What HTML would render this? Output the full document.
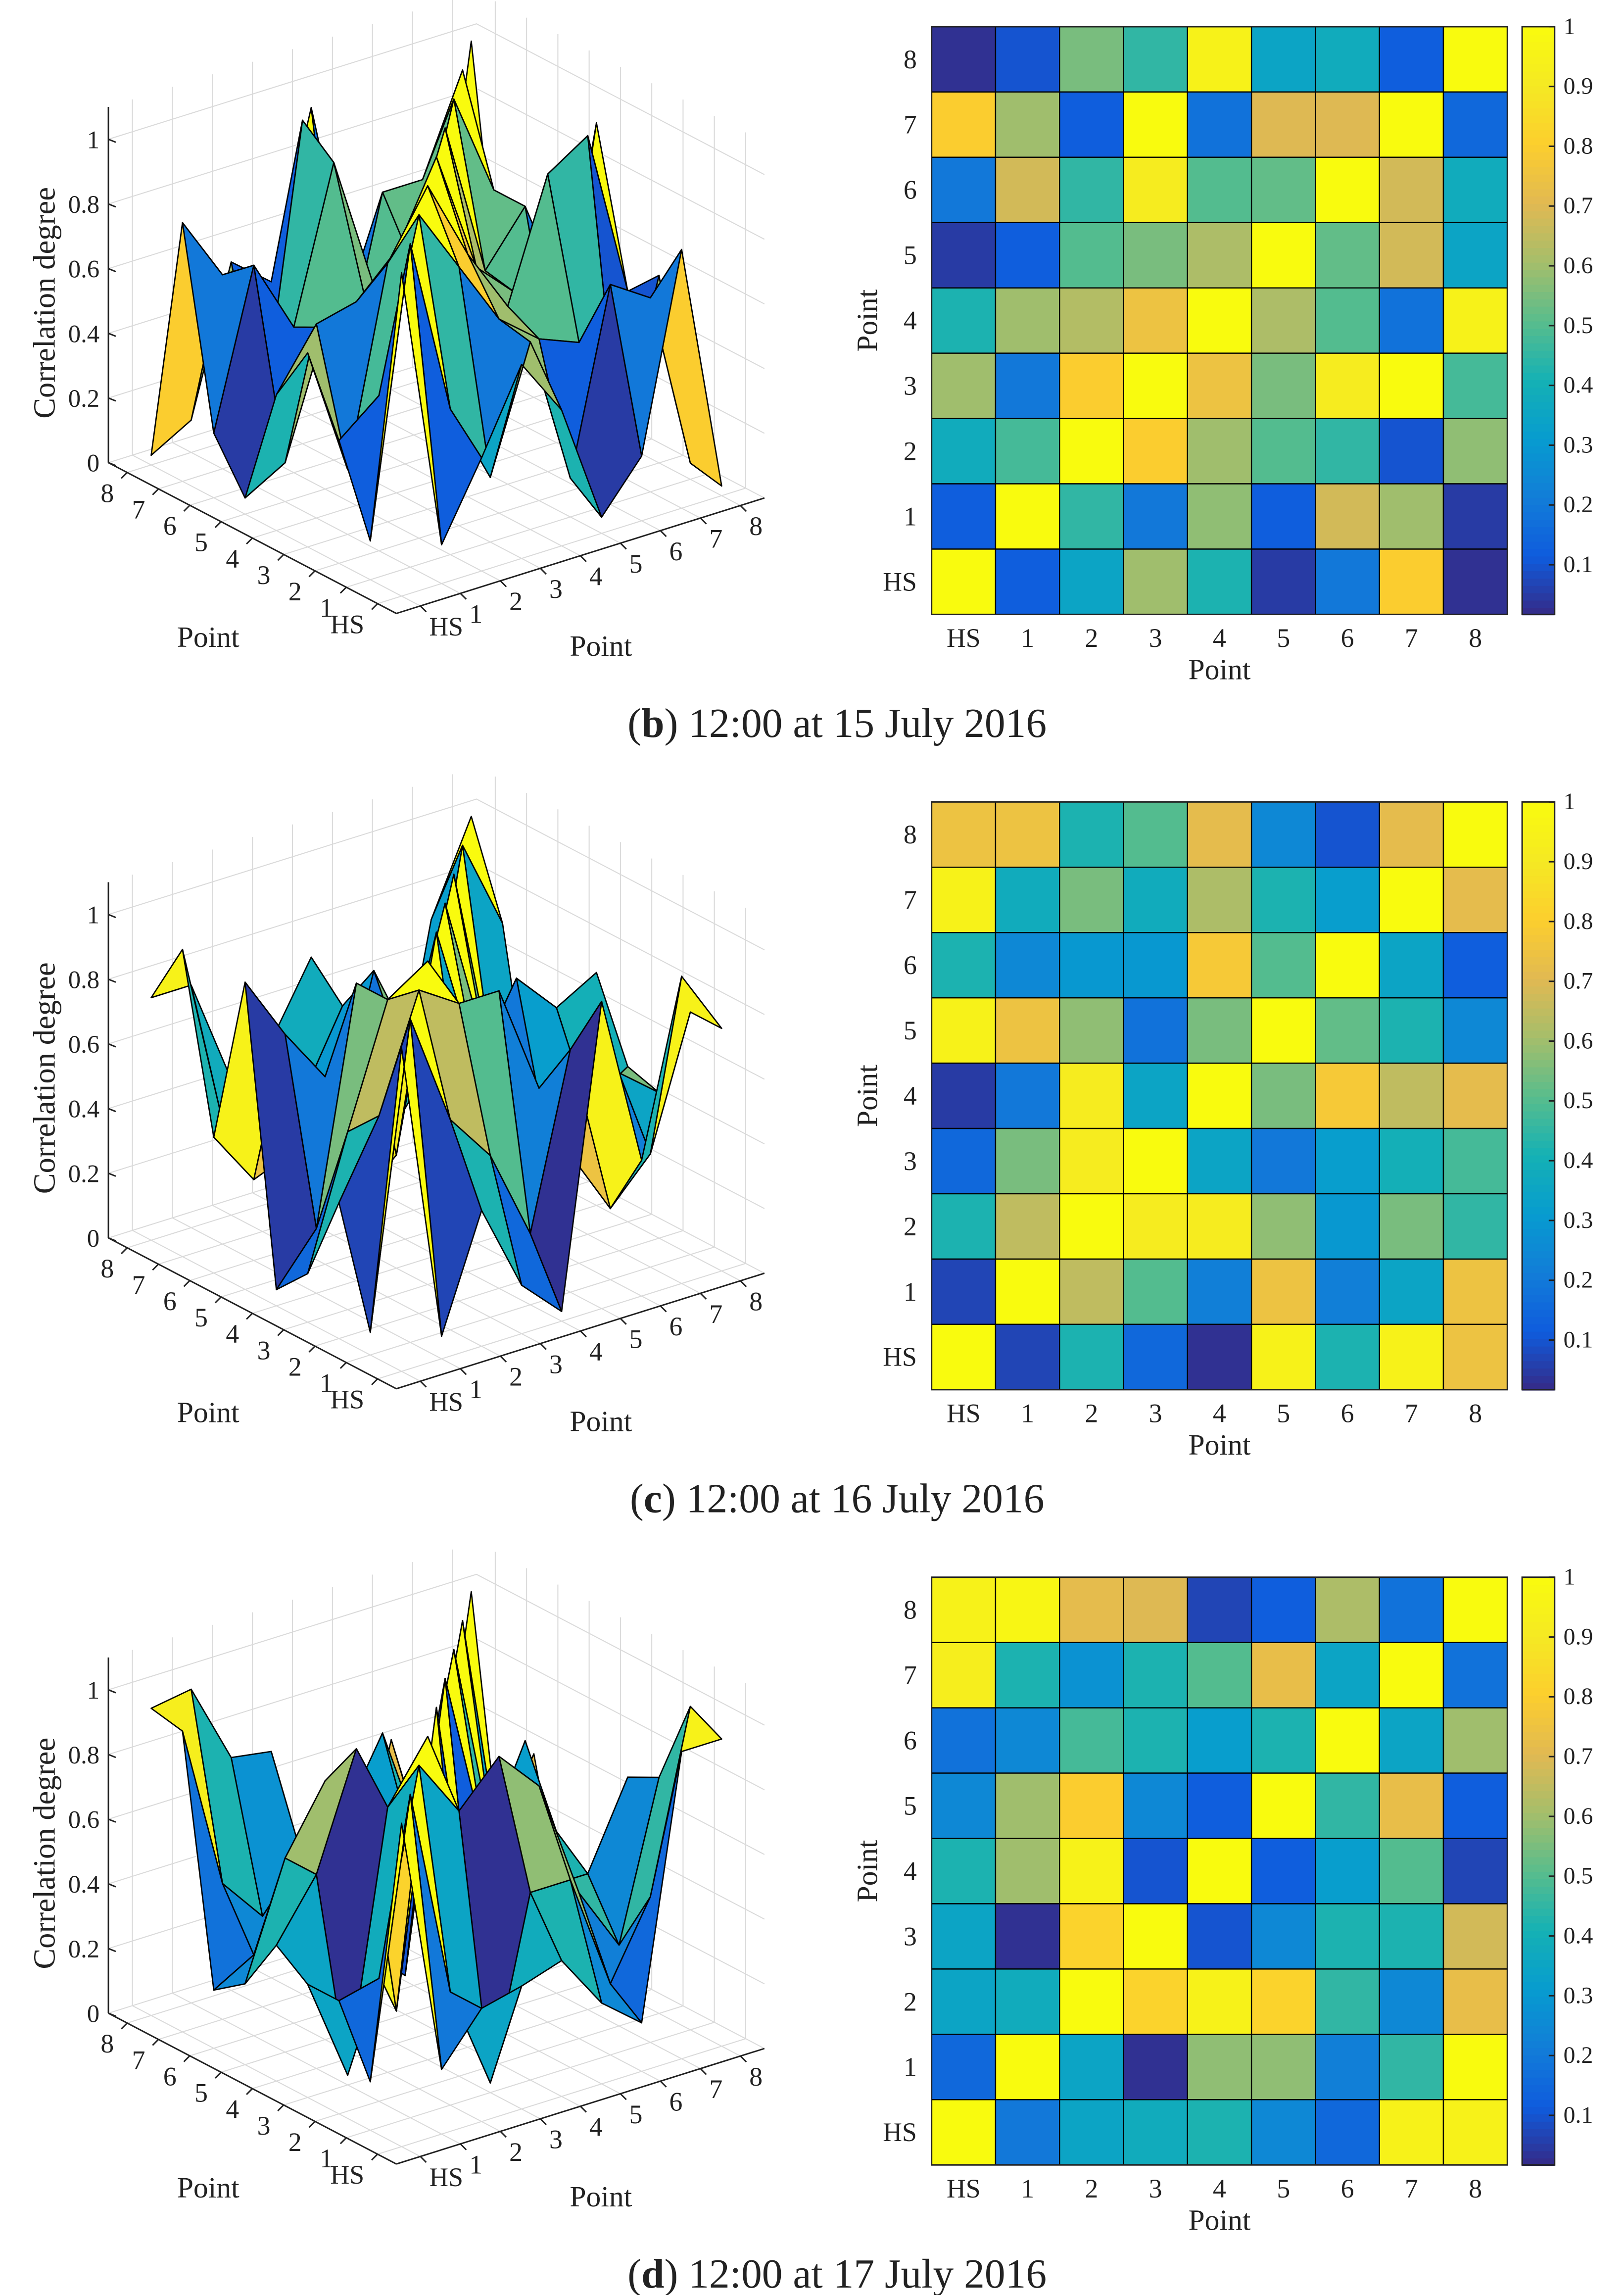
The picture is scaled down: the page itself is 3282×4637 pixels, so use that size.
<!DOCTYPE html>
<html><head><meta charset="utf-8"><title>Correlation degree figure</title>
<style>html,body{margin:0;padding:0;background:#fff}svg{display:block}text{font-family:"Liberation Serif",serif;fill:#222}</style>
</head><body>
<svg id="fig" xmlns="http://www.w3.org/2000/svg" width="3282" height="4637" viewBox="0 0 1100 1554"></svg>
<script>
// Heatmap rows listed top (Point 8) to bottom (HS); columns HS,1..8
const labels = ["HS","1","2","3","4","5","6","7","8"];
const zTicks = [0,0.2,0.4,0.6,0.8,1];
const cbTicks = [0.1,0.2,0.3,0.4,0.5,0.6,0.7,0.8,0.9,1];
const captionsDate = ["12:00 at 15 July 2016","12:00 at 16 July 2016","12:00 at 17 July 2016"];
const captionsLetter = ["b","c","d"];
const heatB = [
 [0.03,0.10,0.55,0.45,0.95,0.35,0.38,0.12,1.00],
 [0.80,0.60,0.12,1.00,0.18,0.70,0.70,1.00,0.15],
 [0.20,0.68,0.45,0.92,0.50,0.52,1.00,0.68,0.38],
 [0.05,0.12,0.50,0.55,0.62,1.00,0.52,0.68,0.35],
 [0.42,0.60,0.63,0.75,1.00,0.62,0.50,0.18,0.95],
 [0.60,0.20,0.80,1.00,0.75,0.55,0.92,1.00,0.48],
 [0.38,0.48,1.00,0.80,0.60,0.50,0.45,0.10,0.58],
 [0.12,1.00,0.45,0.20,0.58,0.12,0.68,0.60,0.05],
 [1.00,0.12,0.35,0.60,0.42,0.05,0.20,0.80,0.03]];
const heatC = [
 [0.75,0.75,0.42,0.50,0.72,0.25,0.10,0.72,1.00],
 [0.95,0.38,0.55,0.38,0.62,0.42,0.32,1.00,0.72],
 [0.42,0.25,0.30,0.30,0.78,0.50,1.00,0.35,0.12],
 [0.95,0.75,0.58,0.18,0.55,1.00,0.52,0.42,0.25],
 [0.05,0.20,0.92,0.35,1.00,0.55,0.78,0.65,0.72],
 [0.15,0.55,0.92,1.00,0.35,0.20,0.32,0.40,0.48],
 [0.42,0.65,1.00,0.92,0.92,0.58,0.30,0.55,0.45],
 [0.07,1.00,0.65,0.50,0.22,0.75,0.22,0.35,0.75],
 [1.00,0.07,0.42,0.15,0.03,0.95,0.42,0.95,0.75]];
const heatD = [
 [0.95,0.97,0.72,0.70,0.07,0.12,0.62,0.18,1.00],
 [0.93,0.42,0.28,0.42,0.50,0.73,0.35,1.00,0.18],
 [0.18,0.25,0.48,0.42,0.32,0.42,1.00,0.35,0.60],
 [0.25,0.60,0.80,0.25,0.12,1.00,0.45,0.73,0.12],
 [0.42,0.60,0.95,0.10,1.00,0.12,0.32,0.50,0.07],
 [0.35,0.03,0.82,1.00,0.10,0.25,0.42,0.42,0.68],
 [0.35,0.38,1.00,0.82,0.95,0.82,0.45,0.25,0.73],
 [0.15,1.00,0.35,0.03,0.58,0.58,0.22,0.45,1.00],
 [1.00,0.20,0.35,0.38,0.42,0.25,0.15,0.95,0.95]];
const panels = [heatB, heatC, heatD];

const parulaStops = [[53,42,135],[15,92,221],[18,125,216],[7,156,207],[21,177,180],[89,189,140],[165,190,107],[225,185,82],[252,206,46],[245,233,35],[249,251,14]];
const CMIN=0.017, CMAX=1;
function parula(v){let t=(v-CMIN)/(CMAX-CMIN);t=Math.max(0,Math.min(1,t))*10;const k=Math.min(9,Math.floor(t)),f=t-k;const a=parulaStops[k],b=parulaStops[k+1];return `rgb(${a.map((x,i)=>Math.round(x+(b[i]-x)*f)).join(',')})`;}

const svg=document.getElementById('fig');
const NS='http://www.w3.org/2000/svg';
function mk(tag,attrs,parent,text){const e=document.createElementNS(NS,tag);for(const k in attrs)e.setAttribute(k,attrs[k]);if(text!==undefined)e.textContent=text;(parent||svg).appendChild(e);return e;}

// 3D projection
const BX=272,BY=403.6,LX=-21.2,LY=-11.1,RX=27.1,RY=-8.5,ZS=219;
function P(i,j,z,oy){return [BX+i*LX+j*RX, BY+i*LY+j*RY-z*ZS+oy];}
function pts(a){return a.map(p=>p[0].toFixed(2)+','+p[1].toFixed(2)).join(' ');}
const LO=-0.6,HI=8.6,ZMAX=1.1;

// heatmap geometry
const HX0=631,HX1=1021,HH=398;
const cw=(HX1-HX0)/9, ch=HH/9;

panels.forEach((rowsTop,pi)=>{
  const oy=pi*525;
  const M=rowsTop.slice().reverse(); // M[r][c], r=0 is HS
  const g3=mk('g',{},svg);
  
  
  const grid=mk('g',{stroke:'#dadada','stroke-width':0.7,fill:'none'},g3);
  
  
  for(let k=0;k<=8;k++){
    let a=P(HI,k,0,oy),b=P(HI,k,ZMAX,oy);mk('line',{x1:a[0],y1:a[1],x2:b[0],y2:b[1]},grid);
    a=P(k,HI,0,oy);b=P(k,HI,ZMAX,oy);mk('line',{x1:a[0],y1:a[1],x2:b[0],y2:b[1]},grid);
    a=P(k,LO,0,oy);b=P(k,HI,0,oy);mk('line',{x1:a[0],y1:a[1],x2:b[0],y2:b[1]},grid);
    a=P(LO,k,0,oy);b=P(HI,k,0,oy);mk('line',{x1:a[0],y1:a[1],x2:b[0],y2:b[1]},grid);
  }
  zTicks.forEach(z=>{
    let a=P(HI,LO,z,oy),b=P(HI,HI,z,oy),c=P(LO,HI,z,oy);
    mk('polyline',{points:pts([a,b,c])},grid);
  });
  const ax=mk('g',{stroke:'#222','stroke-width':1,fill:'none'},g3);
  
  
  let a=P(LO,LO,0,oy),b=P(HI,LO,0,oy),c=P(LO,HI,0,oy);
  mk('line',{x1:a[0],y1:a[1],x2:b[0],y2:b[1]},ax);
  mk('line',{x1:a[0],y1:a[1],x2:c[0],y2:c[1]},ax);
  let zb=P(HI,LO,0,oy),zt=P(HI,LO,ZMAX,oy);
  mk('line',{x1:zb[0],y1:zb[1],x2:zt[0],y2:zt[1]},ax);
  const faces=[];
  for(let i=0;i<8;i++)for(let j=0;j<8;j++)faces.push([i,j]);
  faces.sort((f1,f2)=>(f2[0]+f2[1])-(f1[0]+f1[1]));
  const gs=mk('g',{stroke:'#000','stroke-width':0.9,'stroke-linejoin':'round'},g3);
  
  
  faces.forEach(([i,j])=>{
    const q=[P(i,j,M[i][j],oy),P(i+1,j,M[i+1][j],oy),P(i+1,j+1,M[i+1][j+1],oy),P(i,j+1,M[i][j+1],oy)];
    const poly=mk('polygon',{points:pts(q),fill:parula(M[i][j])},gs);
    
    
  });
  const tl=mk('g',{'font-size':18},g3);
  
  
  labels.forEach((lab,k)=>{
    let p=P(k,LO,0,oy);
    mk('line',{x1:p[0],y1:p[1],x2:p[0]-4,y2:p[1]+4,stroke:'#222'},tl);
    mk('text',{x:p[0]-9,y:p[1]+20,'text-anchor':'end'},tl,lab);
    p=P(LO,k,0,oy);
    mk('line',{x1:p[0],y1:p[1],x2:p[0]+4,y2:p[1]+4,stroke:'#222'},tl);
    mk('text',{x:p[0]+6,y:p[1]+20,'text-anchor':'start'},tl,lab);
  });
  zTicks.forEach(z=>{
    const p=P(HI,LO,z,oy);
    mk('line',{x1:p[0],y1:p[1],x2:p[0]+5,y2:p[1]+2,stroke:'#222'},tl);
    mk('text',{x:p[0]-6,y:p[1]+6,'text-anchor':'end','font-size':17},tl,String(z));
  });
  const zl=mk('text',{x:37,y:205+oy,'text-anchor':'middle','font-size':21,transform:`rotate(-90 37 ${205+oy})`},g3,'Correlation degree');
  
  const xl1=mk('text',{x:141,y:438+oy,'text-anchor':'middle','font-size':20},g3,'Point');
  
  const xl2=mk('text',{x:407,y:444+oy,'text-anchor':'middle','font-size':20},g3,'Point');
  

  const hy0=18+oy;
  const gh=mk('g',{},svg);
  
  
  rowsTop.forEach((row,r)=>row.forEach((v,c)=>{
    const cell=mk('rect',{x:HX0+c*cw,y:hy0+r*ch,width:cw,height:ch,fill:parula(v),stroke:'#000','stroke-width':0.8},gh);
    
    
  }));
  mk('rect',{x:HX0,y:hy0,width:HX1-HX0,height:HH,fill:'none',stroke:'#222','stroke-width':1},gh);
  labels.forEach((lab,k)=>{
    mk('text',{x:HX0+(k+0.5)*cw,y:hy0+HH+22,'text-anchor':'middle','font-size':18},gh,lab);
    mk('text',{x:HX0-10,y:hy0+HH-(k+0.5)*ch+6,'text-anchor':'end','font-size':18},gh,lab);
  });
  const hx=mk('text',{x:826,y:hy0+HH+44,'text-anchor':'middle','font-size':20},gh,'Point');
  
  const hyt=mk('text',{x:594,y:hy0+HH/2,'text-anchor':'middle','font-size':20,transform:`rotate(-90 594 ${hy0+HH/2})`},gh,'Point');
  
  const gc=mk('g',{},svg);
  
  
  const N=80;
  for(let s=0;s<N;s++){
    const v=CMIN+(CMAX-CMIN)*(s+0.5)/N;
    mk('rect',{x:1031,y:hy0+HH-(s+1)*HH/N,width:22,height:HH/N+0.6,fill:parula(v)},gc);
  }
  mk('rect',{x:1031,y:hy0,width:22,height:HH,fill:'none',stroke:'#222','stroke-width':1},gc);
  cbTicks.forEach(t=>{
    const y=hy0+HH-(t-CMIN)/(CMAX-CMIN)*HH;
    mk('line',{x1:1049,y1:y,x2:1053,y2:y,stroke:'#222'},gc);
    mk('text',{x:1059,y:y+5,'font-size':16},gc,String(t));
  });
  const cap=mk('text',{x:567,y:499+oy,'text-anchor':'middle','font-size':28},svg);
  
  
  mk('tspan',{},cap,'(');
  mk('tspan',{'font-weight':'bold'},cap,captionsLetter[pi]);
  mk('tspan',{},cap,') '+captionsDate[pi]);
});
</script>
</body></html>
